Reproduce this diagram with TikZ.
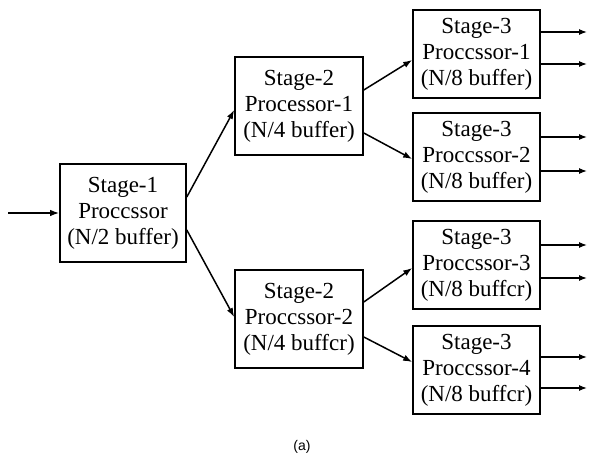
\documentclass[tikz,border=0pt]{standalone}
\usepackage{fontspec}
\setmainfont{Liberation Serif}
\newfontfamily\capfont{Liberation Sans}
\usetikzlibrary{arrows.meta}

\tikzset{
  procbox/.style={draw, line width=1.6pt, align=center, inner sep=0pt,
    font=\fontsize{23}{26}\selectfont},
  box1/.style={procbox, minimum width=126pt, minimum height=98pt},
  box2/.style={procbox, minimum width=128pt, minimum height=98pt},
  box3/.style={procbox, minimum width=127pt, minimum height=88pt},
  link/.style={line width=1.5pt, -{Latex[length=9pt,width=6.5pt]}},
  outlink/.style={line width=1.2pt, -{Latex[length=8pt,width=6pt]}}
}

\begin{document}
\begin{tikzpicture}[x=1pt,y=1pt]
\useasboundingbox (0,0) rectangle (590,460);

% processors, stage by stage
\node[box1] (s1)  at (123,247) {Stage-1\\Proccssor\\(N/2 buffer)};
\node[box2] (s21) at (299,354) {Stage-2\\Processor-1\\(N/4 buffer)};
\node[box2] (s22) at (299,141) {Stage-2\\Proccssor-2\\(N/4 buffcr)};
\node[box3] (s31) at (476.5,406) {Stage-3\\Proccssor-1\\(N/8 buffer)};
\node[box3] (s32) at (476.5,303) {Stage-3\\Proccssor-2\\(N/8 buffer)};
\node[box3] (s33) at (476.5,195) {Stage-3\\Proccssor-3\\(N/8 buffcr)};
\node[box3] (s34) at (476.5,90)  {Stage-3\\Proccssor-4\\(N/8 buffcr)};

% input
\coordinate (in) at (8,247);
\draw[link] (in) -- (s1.west);

% stage 1 to stage 2
\draw[link] ([yshift=16pt]s1.east) -- ([yshift=-4pt]s21.west);
\draw[link] ([yshift=-17pt]s1.east) -- ([yshift=2pt]s22.west);

% stage 2 to stage 3
\draw[link] ([yshift=16pt]s21.east) -- ([yshift=-6pt]s31.west);
\draw[link] ([yshift=-27pt]s21.east) -- ([yshift=-2pt]s32.west);
\draw[link] ([yshift=17pt]s22.east) -- ([yshift=-3pt]s33.west);
\draw[link] ([yshift=-18pt]s22.east) -- ([yshift=8pt]s34.west);

% outputs
\foreach \n/\a/\b in {s31/22/-10, s32/20/-14, s33/20/-13, s34/13/-18}{
  \coordinate (\n-oa) at ([yshift=\a pt]\n.east);
  \coordinate (\n-ob) at ([yshift=\b pt]\n.east);
  \draw[outlink] (\n-oa) -- (\n-oa -| 587,0);
  \draw[outlink] (\n-ob) -- (\n-ob -| 587,0);
}

% caption
\node[font=\capfont\fontsize{14}{16}\selectfont] (cap) at (302,13) {(a)};
\end{tikzpicture}
\end{document}
